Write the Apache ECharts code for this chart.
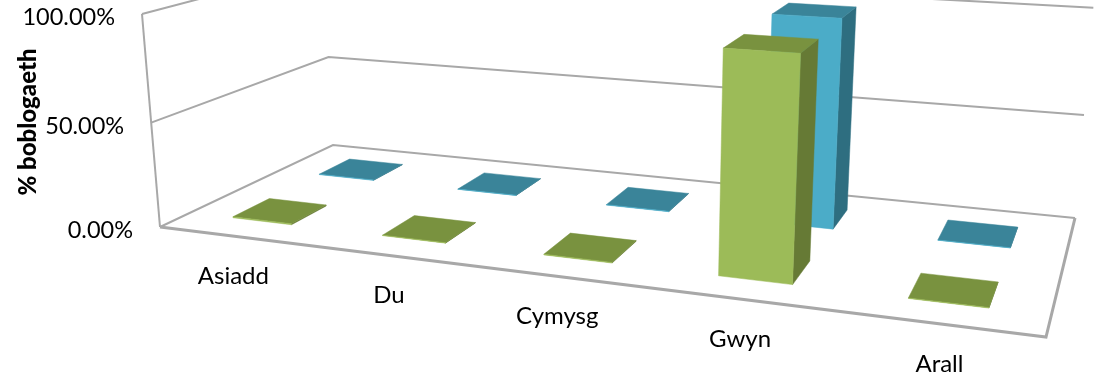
<!DOCTYPE html>
<html>
<head>
<meta charset="utf-8">
<style>html,body{margin:0;padding:0;background:#fff}#chart{width:1101px;height:376px}</style>
<script src="https://cdn.jsdelivr.net/npm/echarts@6/dist/echarts.min.js"></script>
</head>
<body>
<div id="chart"></div>
<script>
// Population share by ethnic group, two areas, shown as a 3D column chart.
const categories = ['Asiadd', 'Du', 'Cymysg', 'Gwyn', 'Arall'];
const frontValues = [0.5, 0.2, 0.3, 97.5, 0.2];
const backValues = [0.2, 0.1, 0.2, 98.3, 0.1];
const tickValues = [0, 50, 100];
const tickLabels = ['0.00%', '50.00%', '100.00%'];
const axisTitle = '% boblogaeth';

// Camera: where the floor's four corners fall on the canvas, and the point the uprights converge on.
const FLOOR = { a: [160, 227], b: [1046, 337], c: [1075, 218], d: [333, 145] };
const UPRIGHT_VANISH = [610, 5550];
const WALL_TOP_Y = 14;
const BAR_BAND_SHARE = 0.4;
const FRONT_DEPTH = [0.15, 0.35];
const BACK_DEPTH = [0.65, 0.85];

const FONT = '"Lato", "Open Sans", sans-serif';
const LINE = '#a8a8a8';
const FRONT_FACES = { front: '#9cbb58', top: '#79923f', side: '#667a35' };
const BACK_FACES = { front: '#4bacc8', top: '#3a8499', side: '#2e6e80' };

// Perspective map from the unit box (u along categories, w into depth, v up) to pixels.
const camera = (function () {
  const { a, b, c, d } = FLOOR;
  const dx1 = b[0] - c[0], dy1 = b[1] - c[1];
  const dx2 = d[0] - c[0], dy2 = d[1] - c[1];
  const sx = a[0] - b[0] + c[0] - d[0], sy = a[1] - b[1] + c[1] - d[1];
  const den = dx1 * dy2 - dx2 * dy1;
  const g = (sx * dy2 - dx2 * sy) / den;
  const h = (dx1 * sy - sx * dy1) / den;
  const k = (WALL_TOP_Y - a[1]) / (UPRIGHT_VANISH[1] - WALL_TOP_Y);
  return {
    x: [b[0] - a[0] + g * b[0], d[0] - a[0] + h * d[0], k * UPRIGHT_VANISH[0], a[0]],
    y: [b[1] - a[1] + g * b[1], d[1] - a[1] + h * d[1], k * UPRIGHT_VANISH[1], a[1]],
    h: [g, h, k, 1]
  };
})();

function project(u, w, v) {
  const dot = (r) => r[0] * u + r[1] * w + r[2] * v + r[3];
  const s = dot(camera.h);
  return [dot(camera.x) / s, dot(camera.y) / s];
}

// Reads a data point through the hidden axes and returns its unit-box position.
function toUnit(params, api, cat, val) {
  const r = params.coordSys;
  const p = api.coord([cat, val]);
  return [(p[0] - r.x) / r.width, 1 - (p[1] - r.y) / r.height];
}

function line(points, width) {
  return {
    type: 'polyline',
    shape: { points },
    style: { stroke: LINE, lineWidth: width, fill: null, lineJoin: 'miter' },
    silent: true
  };
}

function label(text, pos, align, size, weight) {
  return {
    type: 'text',
    style: {
      text, x: pos[0], y: pos[1], fill: '#000',
      font: (weight || 'normal') + ' ' + size + 'px ' + FONT,
      align, verticalAlign: 'middle'
    },
    silent: true
  };
}

function renderWall(params, api) {
  const val = api.value(0);
  const i = params.dataIndex;
  const v = toUnit(params, api, 0, val)[1];
  const p0 = project(0, 0, v);
  const children = [
    line([p0, project(0, 1, v), project(1, 1, v)], 2),
    label(tickLabels[i], [p0[0] - 27, p0[1] + 3.5], 'right', 23.5)
  ];
  if (i === 0) {
    children.push(line([project(0, 0, 1), project(0, 0, 0)], 2));
    children.push(line([project(0, 0, 0), project(1, 0, 0), project(1, 1, 0)], 3));
  }
  return { type: 'group', children };
}

function makeColumn(depth, faces) {
  return function (params, api) {
    const cat = api.value(0);
    const [uc, v] = toUnit(params, api, cat, api.value(1));
    const half = api.size([1, 0])[0] * BAR_BAND_SHARE / 2 / params.coordSys.width;
    const l = uc - half, r = uc + half, n = depth[0], f = depth[1];
    const poly = (pts, fill) => ({
      type: 'polygon', shape: { points: pts },
      style: { fill, stroke: fill, lineWidth: 0.5 }
    });
    return {
      type: 'group',
      children: [
        poly([project(r, n, 0), project(r, f, 0), project(r, f, v), project(r, n, v)], faces.side),
        poly([project(l, n, v), project(r, n, v), project(r, f, v), project(l, f, v)], faces.top),
        poly([project(l, n, 0), project(r, n, 0), project(r, n, v), project(l, n, v)], faces.front)
      ]
    };
  };
}

function renderCategoryLabel(params, api) {
  const cat = api.value(0);
  const u = toUnit(params, api, cat, 0)[0];
  const p = project(u, 0, 0);
  return label(categories[cat], [p[0], p[1] + 40], 'center', 24);
}

const chart = echarts.init(document.getElementById('chart'));
chart.setOption({
  animation: false,
  backgroundColor: '#fff',
  grid: { left: 0, right: 0, top: 0, bottom: 0 },
  xAxis: { type: 'category', data: categories, show: false },
  yAxis: { type: 'value', min: 0, max: 100, interval: 50, show: false },
  graphic: [{
    type: 'text', x: 28, y: 122, rotation: Math.PI / 2, silent: true,
    style: {
      text: axisTitle, fill: '#000', font: '900 24px ' + FONT,
      align: 'center', verticalAlign: 'middle'
    }
  }],
  series: [
    {
      type: 'custom', name: 'wall', clip: false, silent: true,
      data: tickValues.map((t) => [t]), encode: { y: 0 },
      renderItem: renderWall
    },
    {
      type: 'custom', name: 'back', clip: false, silent: true,
      data: backValues.map((val, i) => [i, val]), encode: { x: 0, y: 1 },
      renderItem: makeColumn(BACK_DEPTH, BACK_FACES)
    },
    {
      type: 'custom', name: 'front', clip: false, silent: true,
      data: frontValues.map((val, i) => [i, val]), encode: { x: 0, y: 1 },
      renderItem: makeColumn(FRONT_DEPTH, FRONT_FACES)
    },
    {
      type: 'custom', name: 'categories', clip: false, silent: true,
      data: categories.map((c, i) => [i]), encode: { x: 0 },
      renderItem: renderCategoryLabel
    }
  ]
});
</script>
</body>
</html>
